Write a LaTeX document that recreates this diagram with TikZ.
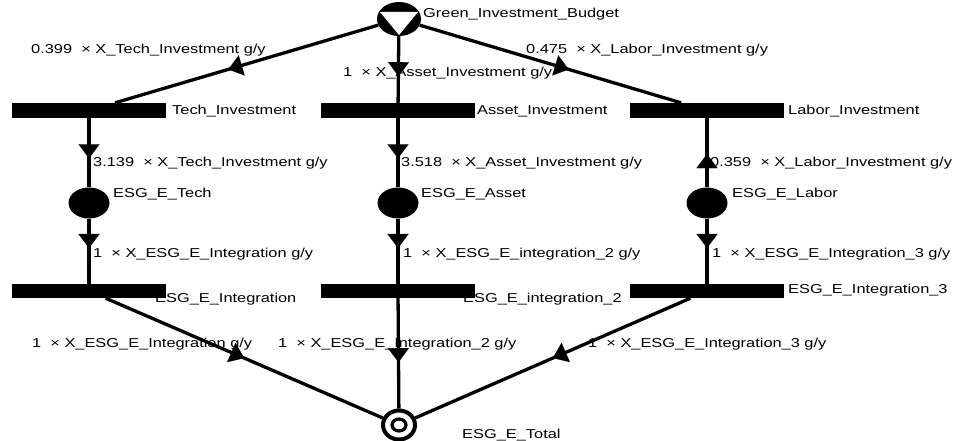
\documentclass[tikz,border=0pt]{standalone}
\usepackage{fontspec}
\setmainfont{Liberation Sans}[FakeStretch=1.27]
\usetikzlibrary{arrows.meta, shapes.geometric, decorations.markings, calc}

\begin{document}
\begin{tikzpicture}[
  x=1pt, y=-1pt,
  font=\fontsize{12.9}{15}\selectfont,
  trans/.style = {fill, minimum width=154pt, minimum height=15pt, inner sep=0pt},
  place/.style = {ellipse, fill, minimum width=41pt, minimum height=31pt, inner sep=0pt},
  lbl/.style = {anchor=base west, inner sep=0pt},
  arc/.style = {line width=3.3pt},
  midarrow/.style = {decoration={markings, mark=at position #1 with {\arrow{Triangle[length=14pt, width=21pt, line width=0.1pt]}}}, postaction={decorate}},
  midarrow/.default = 0.55
]
  \useasboundingbox (0,0) rectangle (959,441);

  % labels first, bars and arcs are drawn over them
  \node[lbl] (budgetlbl) at (423,18) {Green\_Investment\_Budget};
  \node[lbl] (wtech) at (31,54) {0.399~ × X\_Tech\_Investment g/y};
  \node[lbl] (wasset) at (343,77) {1~ × X\_Asset\_Investment g/y};
  \node[lbl] (wlabor) at (526,54) {0.475~ × X\_Labor\_Investment g/y};

  \node[lbl] (techlbl) at (172,115) {Tech\_Investment};
  \node[lbl] (assetlbl) at (477,115) {Asset\_Investment};
  \node[lbl] (laborlbl) at (788,115) {Labor\_Investment};

  \node[lbl] (wesgtech) at (93,167) {3.139~ × X\_Tech\_Investment g/y};
  \node[lbl] (wesgasset) at (401,167) {3.518~ × X\_Asset\_Investment g/y};
  \node[lbl] (wesglabor) at (710,167) {0.359~ × X\_Labor\_Investment g/y};

  \node[lbl] (esgtechlbl) at (113,197) {ESG\_E\_Tech};
  \node[lbl] (esgassetlbl) at (421,197) {ESG\_E\_Asset};
  \node[lbl] (esglaborlbl) at (732,197) {ESG\_E\_Labor};

  \node[lbl] (winteg1) at (93,257) {1~ × X\_ESG\_E\_Integration g/y};
  \node[lbl] (winteg2) at (403,257) {1~ × X\_ESG\_E\_integration\_2 g/y};
  \node[lbl] (winteg3) at (712,257) {1~ × X\_ESG\_E\_Integration\_3 g/y};

  \node[lbl] (integ1lbl) at (155,302) {ESG\_E\_Integration};
  \node[lbl] (integ2lbl) at (463,302) {ESG\_E\_integration\_2};
  \node[lbl] (integ3lbl) at (788,293) {ESG\_E\_Integration\_3};

  \node[lbl] (wtotal1) at (32,347) {1~ × X\_ESG\_E\_Integration g/y};
  \node[lbl] (wtotal2) at (278,347) {1~ × X\_ESG\_E\_Integration\_2 g/y};
  \node[lbl] (wtotal3) at (588,347) {1~ × X\_ESG\_E\_Integration\_3 g/y};

  \node[lbl] (totallbl) at (462,438) {ESG\_E\_Total};

  % source place
  \node[ellipse, fill, minimum width=44pt, minimum height=34pt, inner sep=0pt,
        path picture={\fill[white] ($(path picture bounding box.center)+(-19pt,7pt)$)
          -- ++(38pt,0pt) -- ($(path picture bounding box.center)+(0pt,-16pt)$) -- cycle;}]
        (budget) at (399,19) {};

  % investment transitions
  \node[trans] (techinv) at (89,110.5) {};
  \node[trans] (assetinv) at (398,110.5) {};
  \node[trans] (laborinv) at (707,110.5) {};

  % ESG places
  \node[place] (esgtech) at (89,203) {};
  \node[place] (esgasset) at (398,203) {};
  \node[place] (esglabor) at (707,203) {};

  % integration transitions
  \node[trans, minimum height=14pt] (integ1) at (89,291) {};
  \node[trans, minimum height=14pt] (integ2) at (398,291) {};
  \node[trans, minimum height=14pt] (integ3) at (707,291) {};

  % sink place
  \node[ellipse, draw, line width=4pt, minimum width=32pt, minimum height=29pt, inner sep=0pt,
        path picture={\draw[line width=3.2pt] (path picture bounding box.center) ellipse (7pt and 6pt);}]
        (total) at (399,425) {};

  % arcs
  \draw[arc, midarrow=0.57] (budget) -- (techinv);
  \draw[arc, midarrow=0.6] (budget) -- (assetinv);
  \draw[arc, midarrow=0.57] (budget) -- (laborinv);

  \draw[arc, midarrow=0.58] (techinv) -- (esgtech);
  \draw[arc, midarrow=0.58] (assetinv) -- (esgasset);
  \draw[arc, midarrow=0.48] (esglabor) -- (laborinv);

  \draw[arc, midarrow=0.45] (esgtech) -- (integ1);
  \draw[arc, midarrow=0.45] (esgasset) -- (integ2);
  \draw[arc, midarrow=0.45] (esglabor) -- (integ3);

  \draw[arc, midarrow=0.5] (integ1) -- (total);
  \draw[arc, midarrow=0.58] (integ2) -- (total);
  \draw[arc, midarrow=0.5] (integ3) -- (total);
\end{tikzpicture}
\end{document}
